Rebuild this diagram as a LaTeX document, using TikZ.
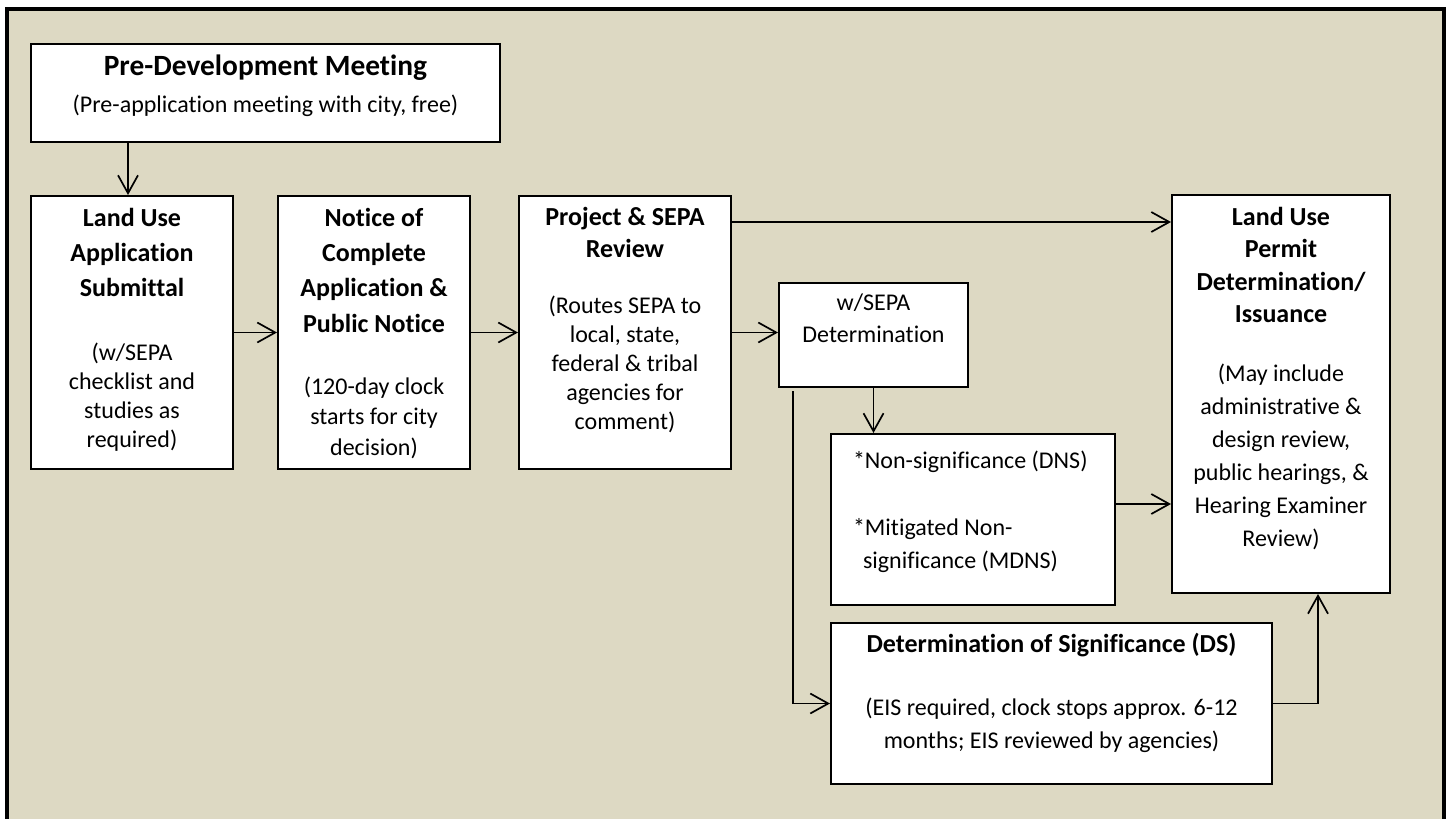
\documentclass[tikz,border=0pt]{standalone}
\usepackage{fontspec}
\setmainfont{Carlito}[Ligatures=NoCommon]
\usetikzlibrary{arrows.meta}
\definecolor{panel}{RGB}{221,217,195}
\newcommand{\ttlfont}[2][13pt]{\fontsize{#1}{#2}\selectfont\bfseries}
\newcommand{\txtfont}[1]{\fontsize{12pt}{#1}\selectfont\mdseries}
% width, height, first baseline, text
\newcommand{\boxbody}[4]{\parbox[c][#2][t]{#1}{\centering\rule{0pt}{#3}#4}}
\begin{document}
\begin{tikzpicture}[x=0.5pt,y=-0.5pt,
    box/.style={draw, fill=white, line width=1pt, inner sep=0pt},
    arr/.style={-{Straight Barb[length=9pt,width=10pt]}, line width=0.85pt}]
  \useasboundingbox (0,0) rectangle (1447,819);
  \fill[white] (0,0) rectangle (1447,819);
  \fill[panel] (6.5,9) rectangle (1443.5,819);
  \draw[line width=2pt] (6.5,819) -- (6.5,9) -- (1443.5,9) -- (1443.5,819);

  \node[box] (predev) at (265.5,93) {\boxbody{234.5pt}{49pt}{15.5pt}{%
    \ttlfont[14.7pt]{18.5pt}Pre-Development Meeting\par
    \txtfont{18.5pt}(Pre-application meeting with city, free)\par}};

  \node[box] (landuse) at (132,332.5) {\boxbody{101pt}{136.5pt}{15pt}{%
    \ttlfont{17.5pt}Land Use\\Application\\Submittal\par
    \vspace{17.5pt}
    \txtfont{14.5pt}(w/SEPA\\checklist and\\studies as\\required)\par}};
  \node[box] (notice) at (374,332.5) {\boxbody{96pt}{136.5pt}{15pt}{%
    \ttlfont{17.7pt}Notice of\\Complete\\Application \&\\Public Notice\par
    \vspace{15.75pt}
    \txtfont{15.25pt}(120-day clock\\starts for city\\decision)\par}};
  \node[box] (project) at (625,332.5) {\boxbody{106pt}{136.5pt}{14.5pt}{%
    \ttlfont{16pt}Project \& SEPA\\Review\par
    \vspace{13.4pt}
    \txtfont{14.6pt}(Routes SEPA to\\local, state,\\federal \& tribal\\agencies for\\comment)\par}};

  \node[box] (wsepa) at (873.5,335) {\boxbody{94.5pt}{52pt}{13.5pt}{%
    \txtfont{16pt}w/SEPA\\Determination\par}};
  \node[box] (nonsig) at (973,519.5) {\boxbody{142pt}{85.5pt}{17pt}{%
    \raggedright\leftskip=11pt
    \txtfont{16.5pt}*Non-significance (DNS)\par
    \vspace{17pt}
    \txtfont{16.5pt}*Mitigated Non-\\\hspace*{5pt}significance (MDNS)\par}};
  \node[box] (ds) at (1051.5,703.5) {\boxbody{220.5pt}{80.5pt}{14.5pt}{%
    \ttlfont{16.5pt}Determination of Significance (DS)\par
    \vspace{15pt}
    \txtfont{16.5pt}(EIS required, clock stops approx. 6-12\\months; EIS reviewed by agencies)\par}};

  \node[box] (permit) at (1281,394) {\boxbody{109pt}{199pt}{15pt}{%
    \ttlfont{16.33pt}Land Use\\Permit\\Determination/\\Issuance\par
    \vspace{13pt}
    \txtfont{16.5pt}(May include\\administrative \&\\design review,\\public hearings, \&\\Hearing Examiner\\Review)\par}};

  \draw[arr] ([xshift=-2pt]landuse.north |- predev.south) -- ([xshift=-2pt]landuse.north);
  \draw[arr] (landuse) -- (notice);
  \draw[arr] (notice) -- (project);
  \draw[arr] ([yshift=-13.5pt]project.north east) -- ([yshift=-13.5pt]project.north east -| permit.west);
  \draw[arr] (project.east) -- (project.east -| wsepa.west);
  \draw[arr] (wsepa.south) -- (wsepa.south |- nonsig.north);
  \draw[arr] ([xshift=7.5pt,yshift=-1.5pt]wsepa.south west) |- (ds.west);
  \draw[arr] ([yshift=7.75pt]nonsig.east) -- ([yshift=7.75pt]nonsig.east -| permit.west);
  \draw[arr] (ds.east) -| ([xshift=18.5pt]permit.south);
\end{tikzpicture}
\end{document}
